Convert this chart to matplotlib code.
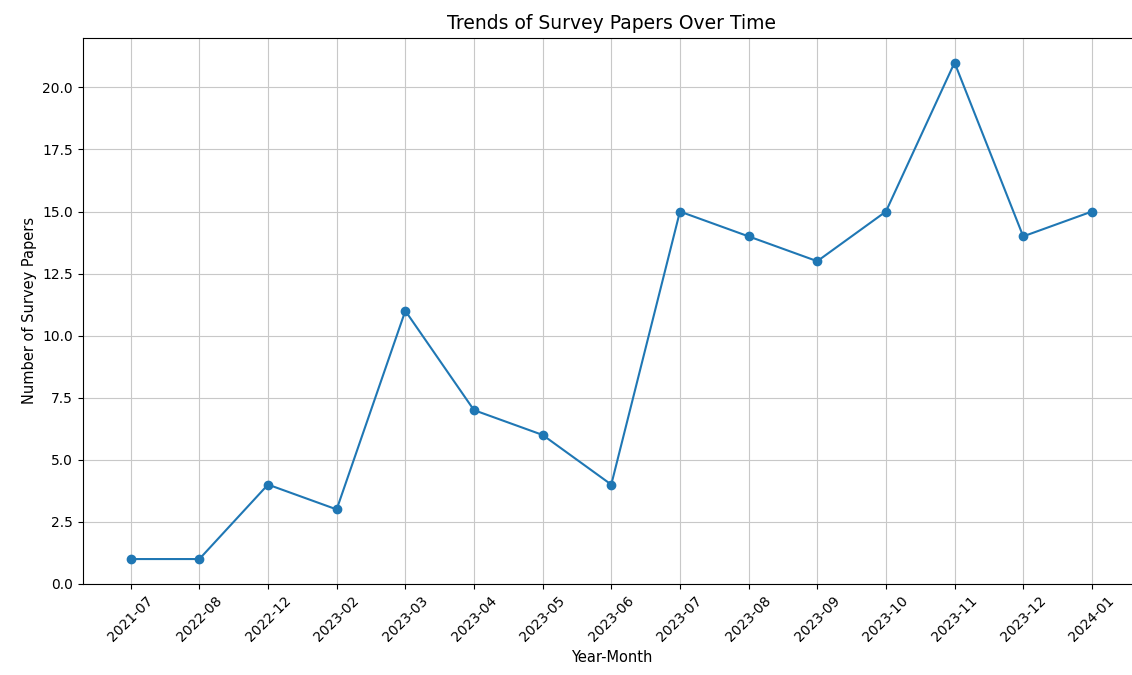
import matplotlib
matplotlib.use("Agg")
import matplotlib.pyplot as plt

# Daten
months = ['2021-07', '2022-08', '2022-12', '2023-02', '2023-03', '2023-04', '2023-05',
          '2023-06', '2023-07', '2023-08', '2023-09', '2023-10', '2023-11', '2023-12', '2024-01']
counts = [1, 1, 4, 3, 11, 7, 6, 4, 15, 14, 13, 15, 21, 14, 15]

fig = plt.figure(figsize=(11.32, 6.75), dpi=100)
ax = fig.add_axes([0.073, 0.135, 0.934, 0.809])
ax.plot(months, counts, marker='o')
ax.set_title("Trends of Survey Papers Over Time", fontsize=13.5)
ax.set_xlabel("Year-Month", fontsize=10.5)
ax.set_ylabel("Number of Survey Papers", fontsize=10.5)
plt.setp(ax.get_xticklabels(), rotation=45)
ax.grid(True, color='#c8c8c8')

fig.savefig("out.png", dpi=100)
